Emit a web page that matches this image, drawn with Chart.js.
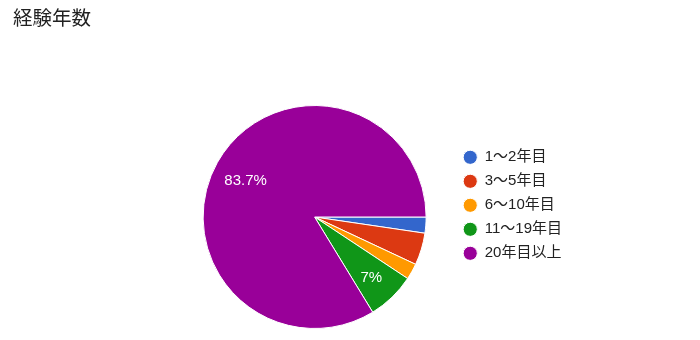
<!DOCTYPE html>
<html>
<head>
<meta charset="utf-8">
<script src="https://cdn.jsdelivr.net/npm/chart.js@4"></script>
<style>
  body { margin: 0; background: #fff; }
  #wrap { position: relative; width: 700px; height: 340px; }
  #title {
    position: absolute; left: 13px; top: 5px;
    font: 19.5px "Noto Sans CJK JP", sans-serif; line-height: 24px; color: #212121;
  }
</style>
</head>
<body>
<div id="wrap">
  <div id="title">経験年数</div>
  <canvas id="pie" width="700" height="340"></canvas>
</div>
<script>
// data (answer counts, 43 in total)
const categories = ["1〜2年目", "3〜5年目", "6〜10年目", "11〜19年目", "20年目以上"];
const counts = [1, 2, 1, 3, 36];
const colors = ["#3366cc", "#dc3912", "#ff9900", "#109618", "#990099"];

const labelFont = "'Liberation Sans', Arial, 'Noto Sans CJK JP', sans-serif";

// percent text inside the bigger slices
const sliceLabels = {
  id: "sliceLabels",
  afterDatasetsDraw(chart) {
    const ctx = chart.ctx;
    const meta = chart.getDatasetMeta(0);
    const total = counts.reduce((a, b) => a + b, 0);
    ctx.save();
    ctx.fillStyle = "#fff";
    ctx.font = "15px " + labelFont;
    ctx.textAlign = "center";
    ctx.textBaseline = "middle";
    meta.data.forEach((arc, i) => {
      const pct = counts[i] / total * 100;
      if (pct < 5) return;
      const mid = (arc.startAngle + arc.endAngle) / 2;
      const r = arc.outerRadius * 0.72;
      const txt = Math.round(pct * 10) / 10 + "%";
      ctx.fillText(txt, arc.x + Math.cos(mid) * r + 1, arc.y + Math.sin(mid) * r + 3);
    });
    ctx.restore();
  }
};

new Chart(document.getElementById("pie"), {
  type: "pie",
  data: {
    labels: categories,
    datasets: [{
      data: counts,
      backgroundColor: colors,
      borderColor: "#fff",
      borderWidth: 1
    }]
  },
  options: {
    responsive: false,
    animation: false,
    rotation: 90,
    layout: { padding: { left: 175, right: 128, top: 105, bottom: 11 } },
    plugins: {
      tooltip: { enabled: false },
      legend: {
        position: "right",
        align: "start",
        title: { display: true, text: "", font: { size: 14 }, padding: { top: 19, bottom: 0 } },
        labels: {
          usePointStyle: true,
          pointStyle: "circle",
          boxWidth: 14,
          boxHeight: 10,
          padding: 9,
          color: "#222",
          font: { size: 15, family: labelFont }
        }
      }
    }
  },
  plugins: [sliceLabels]
});
</script>
</body>
</html>
